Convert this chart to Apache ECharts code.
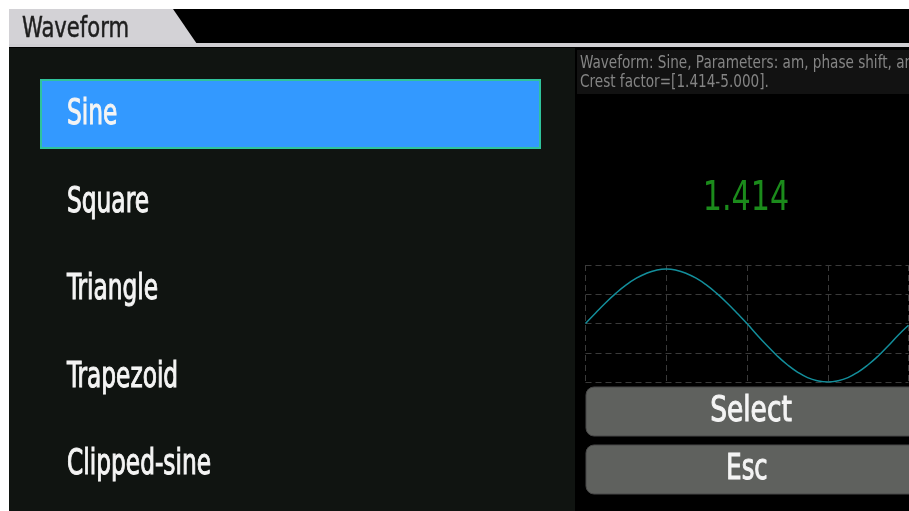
<!DOCTYPE html>
<html>
<head>
<meta charset="utf-8">
<script src="https://cdn.jsdelivr.net/npm/echarts@6/dist/echarts.min.js"></script>
<style>html,body{margin:0;padding:0;background:#fff;}#c{width:909px;height:511px;}</style>
</head>
<body>
<div id="c"></div>
<script>
// ---- data ----
var titleText = 'Waveform';
var menuItems = ['Sine', 'Square', 'Triangle', 'Trapezoid', 'Clipped-sine'];
var selectedIndex = 0;
var descLines = ['Waveform: Sine, Parameters: am, phase shift, and offset.', 'Crest factor=[1.414-5.000].'];
var crestValue = '1.414';
var buttonLabels = ['Select', 'Esc'];
// waveform preview samples (one full period, 8 samples per grid division)
var sineValues = [0, 0.36, 0.71, 1.03, 1.31, 1.54, 1.71, 1.82, 1.86, 1.82, 1.71, 1.54, 1.31, 1.03, 0.71, 0.36,
                  0, -0.39, -0.76, -1.11, -1.41, -1.66, -1.85, -1.96, -2.0, -1.96, -1.85, -1.66, -1.41, -1.11, -0.76, -0.39, -0.06];

var COND = "'DejaVu Sans Condensed','Liberation Sans Narrow',sans-serif";
var chart = echarts.init(document.getElementById('c'), null, {renderer: 'canvas'});

function txt(t, x, y, font, fill, sx, align, sw) {
  var st = {text: t, font: font, fill: fill, align: align || 'left', verticalAlign: 'middle'};
  if (sw) { st.stroke = fill; st.lineWidth = sw; }
  return {type: 'text', z: 5, x: x, y: y, scaleX: sx, originX: 0, originY: 0, style: st};
}

var g = [];
// backgrounds
g.push({type: 'rect', z: -1, shape: {x: 9, y: 9, width: 900, height: 502}, style: {fill: '#000'}});
g.push({type: 'rect', z: -1, shape: {x: 9, y: 48, width: 566, height: 463}, style: {fill: '#101411'}});
g.push({type: 'rect', z: -1, shape: {x: 9, y: 43, width: 900, height: 4}, style: {fill: '#cfced2'}});
g.push({type: 'polygon', z: -1, shape: {points: [[9, 9], [173, 9], [197, 44], [9, 44]]}, style: {fill: '#d3d2d6'}});
g.push({type: 'rect', z: -1, shape: {x: 577, y: 50, width: 332, height: 44}, style: {fill: '#121212'}});
// title
g.push(txt(titleText, 22, 29, '29px ' + COND, '#1e1e1e', 0.81, 'left', 0.5));
// selection box
g.push({type: 'rect', z: 1, shape: {x: 41, y: 80, width: 499, height: 68}, style: {fill: '#3399ff', stroke: '#2fc39c', lineWidth: 2}});
// menu items
var itemY = [115, 203, 290, 378, 465];
menuItems.forEach(function (m, i) {
  g.push(txt(m, 67, itemY[i], '35px ' + COND, '#f4f4f4', 0.74, 'left', 1.0));
});
// description
descLines.forEach(function (t, i) {
  g.push(txt(t, 580, 63 + i * 19, '18px ' + COND, '#858585', 0.84));
});
// crest value
g.push(txt(crestValue, 746, 200, '40px ' + COND, '#1b8b1b', 0.84, 'center'));
// buttons
var btnY = [387, 445];
var btnScale = [0.84, 0.77];
buttonLabels.forEach(function (b, i) {
  g.push({type: 'rect', z: 1, shape: {x: 586, y: btnY[i], width: 340, height: 49, r: 8}, style: {fill: '#5f615e', stroke: '#484848', lineWidth: 1}});
  g.push(txt(b, i === 0 ? 751 : 747, btnY[i] + 25, '35px ' + COND, '#f4f4f4', btnScale[i], 'center', 1.0));
});

var option = {
  backgroundColor: '#fff',
  animation: false,
  graphic: {elements: g},
  grid: {left: 585.5, top: 265, width: 323, height: 117, containLabel: false},
  xAxis: {type: 'value', min: 0, max: 32, interval: 8, z: 2,
    axisLine: {show: false}, axisTick: {show: false}, axisLabel: {show: false},
    splitLine: {show: true, lineStyle: {color: '#3a3a3a', type: [6, 4], width: 1}}},
  yAxis: {type: 'value', min: -2, max: 2, interval: 1, z: 2,
    axisLine: {show: false}, axisTick: {show: false}, axisLabel: {show: false},
    splitLine: {show: true, lineStyle: {color: '#3a3a3a', type: [6, 4], width: 1}}},
  series: [{type: 'line', z: 3, smooth: true, showSymbol: false,
    data: sineValues.map(function (v, i) { return [i, v]; }),
    lineStyle: {color: '#138e9b', width: 1.5}}]
};
chart.setOption(option);
</script>
</body>
</html>
